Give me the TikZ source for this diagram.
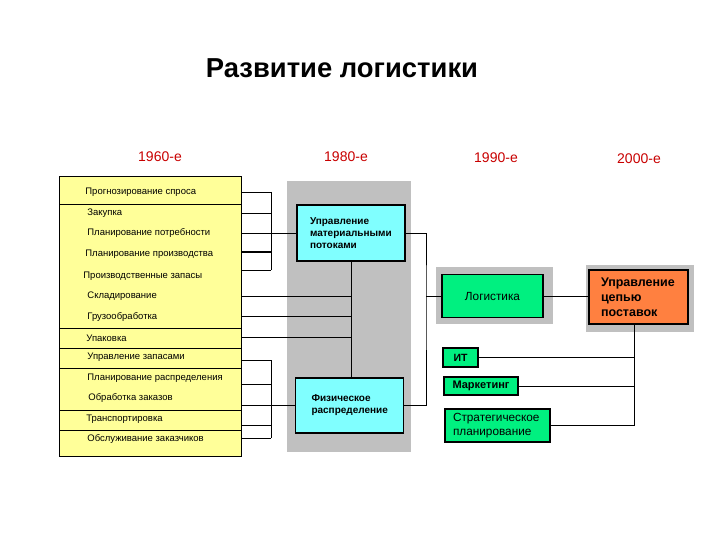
\documentclass[tikz,border=0pt]{standalone}
\usepackage{fontspec}
\setmainfont{Liberation Sans}

\definecolor{listyellow}{RGB}{255,255,153}
\definecolor{flowcyan}{RGB}{128,255,255}
\definecolor{logigreen}{RGB}{0,240,128}
\definecolor{scmorange}{RGB}{255,128,64}
\definecolor{panelgrey}{RGB}{192,192,192}
\definecolor{yearred}{RGB}{200,0,0}

\begin{document}
\begin{tikzpicture}[x=1pt,y=-1pt,line width=0.8pt,
  item/.style={anchor=west,inner sep=0pt,font=\fontsize{9.5}{11}\selectfont},
  year/.style={text=yearred,font=\fontsize{14}{16}\selectfont},
  flowbox/.style={draw,line width=1.4pt,fill=flowcyan,align=left,inner ysep=0pt,
    font=\bfseries\fontsize{10}{12}\selectfont},
  greenbox/.style={draw,line width=1.2pt,fill=logigreen,inner ysep=0pt,
    font=\fontsize{11.8}{13.5}\selectfont}]
\useasboundingbox (0,0) rectangle (720,540);
% title and decades
\node[font=\bfseries\fontsize{27.4}{32}\selectfont] (title) at (342,68) {Развитие логистики};
\node[year] (y60) at (160,157) {1960-е};
\node[year] (y80) at (346,157) {1980-е};
\node[year] (y90) at (496,158) {1990-е};
\node[year] (y00) at (639,159) {2000-е};
% grey panels behind boxes
\fill[panelgrey] (287,181) rectangle (411,452);
\fill[panelgrey] (436,267) rectangle (553,324);
\fill[panelgrey] (586,265) rectangle (694,332);
% 1960s: list of separate functions
\node[draw,fill=listyellow,anchor=north west,inner sep=0pt,
  minimum width=182pt,minimum height=280pt] (list) at (59,176) {};
\foreach \y in {204,328,348,368,410,430}
  \draw (59,\y) -- (241,\y);
\foreach \t/\x/\y [count=\n] in {Прогнозирование спроса/85/192,Закупка/87/213,
    Планирование потребности/87/233,Планирование производства/85/254,
    Производственные запасы/83/276,Складирование/87/296,Грузообработка/87/317,
    Упаковка/86/338,Управление запасами/87/357,Планирование распределения/87/378,
    Обработка заказов/88/398,Транспортировка/86/419,Обслуживание заказчиков/87/439}
  \node[item] (i\n) at (\x,\y) {\t};
% 1980s
\node[flowbox,text width=82pt,inner xsep=13pt,minimum height=56pt] (mfm) at (351,233)
  {Управление\\материальными\\потоками};
\node[flowbox,text width=76pt,inner xsep=16pt,minimum height=55pt] (pd) at (349.5,405.5)
  {Физическое\\распределение};
% 1990s
\node[greenbox,minimum width=101pt,minimum height=43pt] (logi) at (492.5,296) {Логистика};
\node[greenbox,font=\bfseries\fontsize{10.5}{12.5}\selectfont,
  minimum width=35pt,minimum height=19pt] (it) at (460.5,357.5) {ИТ};
\node[greenbox,font=\bfseries\fontsize{11}{13}\selectfont,
  minimum width=74pt,minimum height=18pt] (mkt) at (481,386) {Маркетинг};
\node[greenbox,align=left,text width=89pt,inner xsep=8pt,minimum height=33pt] (strat)
  at (497.5,425.5) {Стратегическое\\планирование};
% 2000s
\node[draw,line width=1.2pt,fill=scmorange,align=left,text width=75pt,inner xsep=12pt,
  inner ysep=0pt,minimum height=54pt,font=\bfseries\fontsize{12.5}{15}\selectfont] (scm)
  at (638.5,297) {Управление\\цепью\\поставок};
% upper group of functions
\foreach \y in {192,213,270}
  \draw (241,\y) -- (271,\y);
\draw[line width=1.6pt] (241,252) -- (271,252);
\draw (271,192) -- (271,270);
\draw (241,233) -- (mfm.west);
% functions joined straight to the link
\foreach \y in {296,316,337}
  \draw (241,\y) -- (351,\y);
% lower group of functions
\foreach \y in {360,384,425,438}
  \draw (241,\y) -- (271,\y);
\draw (271,360) -- (271,438);
\draw (241,405.5) -- (pd.west);
\draw (mfm.south) -- (mfm.south |- pd.north);
% both 1980s boxes into logistics
\coordinate (join) at (426,296);
\draw (mfm.east) -| (join) |- (pd.east);
\draw (join) -- (logi.west);
\draw (logi.east) -- (logi.east -| scm.west);
% supply chain bus
\coordinate (bus) at (634,425.5);
\draw (scm.south -| bus) -- (bus);
\draw (it.east) -- (it.east -| bus);
\draw (mkt.east) -- (mkt.east -| bus);
\draw (strat.east) -- (bus);
\end{tikzpicture}
\end{document}
